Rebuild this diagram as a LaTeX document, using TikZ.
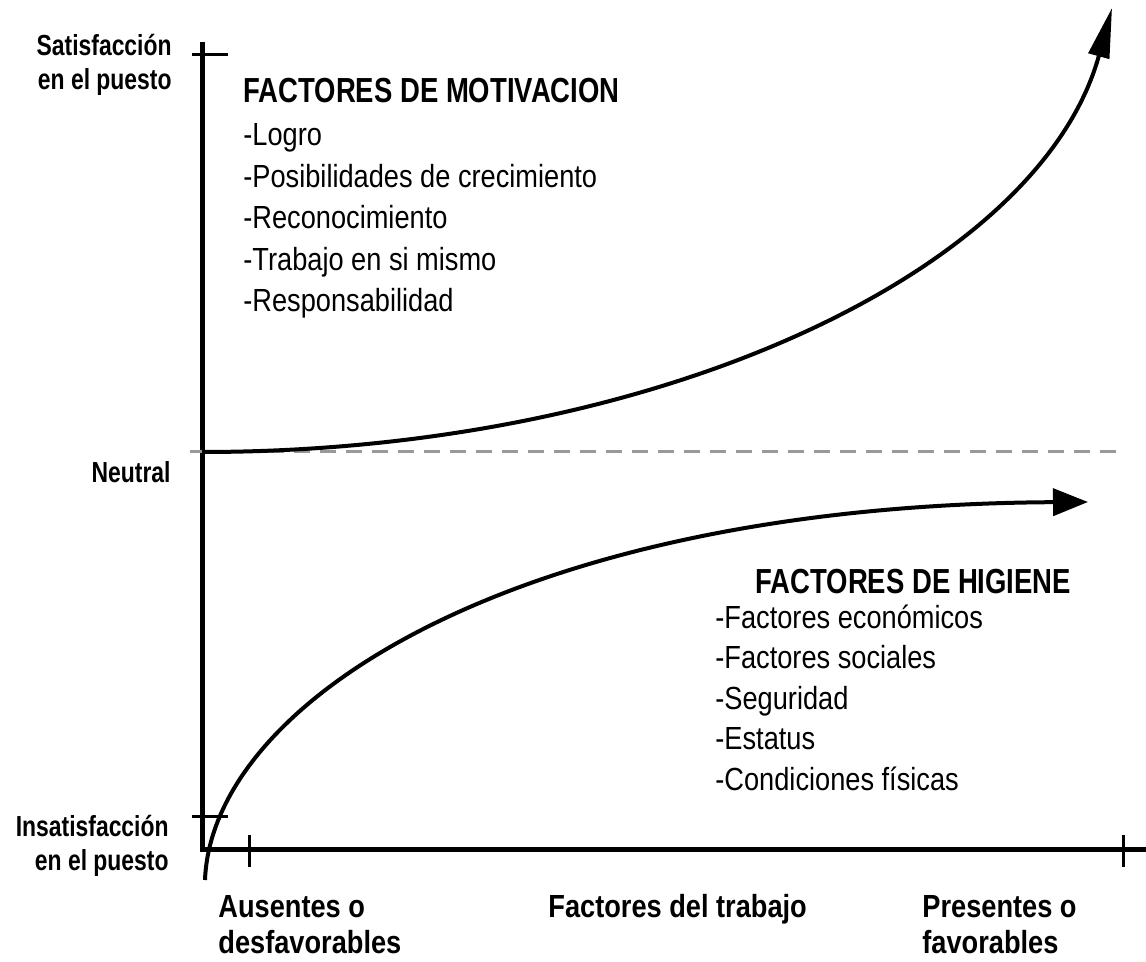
\documentclass[tikz,border=0pt]{standalone}
\usepackage{fontspec}
\setmainfont{Liberation Sans}[FakeStretch=0.85]
\newfontfamily\narrowfont{Liberation Sans}[FakeStretch=0.79]
\usetikzlibrary{arrows.meta}

\begin{document}
\begin{tikzpicture}[x=0.5pt,y=-0.5pt,
    axis/.style={line width=2.5pt},
    tick/.style={line width=1.5pt},
    curve/.style={line width=2pt},
    side/.style={font=\narrowfont\bfseries\fontsize{14.5}{17}\selectfont,align=right,inner sep=0pt},
    title/.style={font=\narrowfont\bfseries\fontsize{17.4}{20}\selectfont,inner sep=0pt},
    item/.style={font=\fontsize{16}{20}\selectfont,inner sep=0pt},
    bottom/.style={font=\bfseries\fontsize{16}{18}\selectfont,align=left,inner sep=0pt}]
    \useasboundingbox (0,0) rectangle (1146,962);
    % axes
    \coordinate (origin) at (202,849);
    \coordinate (ytop) at (202,42);
    \coordinate (xend) at (1146,849);
    \draw[axis] (ytop) -- (origin) -- (xend);
    \draw[tick] (192,55) -- (228,55);
    \draw[tick] (192,452) -- (218,452);
    \draw[tick] (192,816) -- (228,816);
    \draw[tick] (249,835) -- (249,867);
    \draw[tick] (1123,835) -- (1123,867);
    % neutral line
    \coordinate (nleft) at (190,452);
    \coordinate (nright) at (1122,452);
    \draw[gray!80, line width=1.5pt, dash pattern=on 8pt off 5pt] (nleft) -- (nright);
    % labels of the axes
    \node[side,anchor=east] (satis) at (172,65) {Satisfacción\\en el puesto};
    \node[side,anchor=base east] (neutral) at (171,483) {Neutral};
    \node[side,anchor=east] (insatis) at (169,846) {Insatisfacción\\en el puesto};
    \node[bottom,anchor=north west] (ausentes) at (218,895) {Ausentes o\\desfavorables};
    \node[bottom,anchor=base west] (factores) at (548,917) {Factores del trabajo};
    \node[bottom,anchor=north west] (presentes) at (922,895) {Presentes o\\favorables};
    % motivation
    \node[title,anchor=base west] (mot) at (243,103) {FACTORES DE MOTIVACION};
    \foreach \t [count=\i] in {-Logro,-Posibilidades de crecimiento,-Reconocimiento,
        -Trabajo en si mismo,-Responsabilidad}
        \node[item,anchor=base west] (mot\i) at (243,{146+41.5*(\i-1)}) {\t};
    % hygiene
    \node[title,anchor=base west] (hig) at (755,593) {FACTORES DE HIGIENE};
    \foreach \t [count=\i] in {-Factores económicos,-Factores sociales,-Seguridad,
        -Estatus,-Condiciones físicas}
        \node[item,anchor=base west] (hig\i) at (715,{628+40.5*(\i-1)}) {\t};
    % curves
    \coordinate (motstart) at (202,452);
    \coordinate (motend) at (1112,8);
    \draw[curve,-{Triangle[length=25pt,width=10.5pt]}] (motstart)
        .. controls (660,452) and (1040,270) .. (motend);
    \coordinate (higstart) at (205,880);
    \coordinate (higend) at (1088,502);
    \draw[curve,-{Triangle[length=17.5pt,width=13.5pt]}] (higstart)
        .. controls (212,700) and (520,505) .. (higend);
\end{tikzpicture}
\end{document}
